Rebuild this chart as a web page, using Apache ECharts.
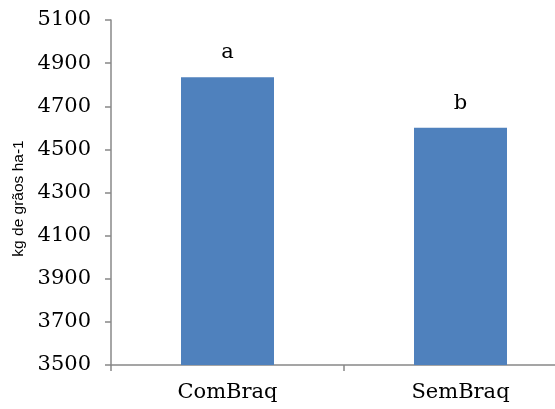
<!DOCTYPE html>
<html>
<head>
<meta charset="utf-8">
<script src="https://cdn.jsdelivr.net/npm/echarts@6/dist/echarts.min.js"></script>
<style>html,body{margin:0;padding:0;background:#fff}#c{width:555px;height:409px}</style>
</head>
<body>
<div id="c"></div>
<script>
const categories = ["ComBraq", "SemBraq"];
const values = [4835, 4600];
const letters = ["a", "b"];
const yTicks = [3500, 3700, 3900, 4100, 4300, 4500, 4700, 4900, 5100];

const chart = echarts.init(document.getElementById('c'), null, {renderer: 'canvas'});
const serif = '"DejaVu Serif", "Liberation Serif", serif';
chart.setOption({
  animation: false,
  grid: {left: 111, top: 20, width: 466, height: 345, outerBoundsMode: 'none', containLabel: false},
  xAxis: {
    type: 'category',
    data: categories,
    axisLine: {lineStyle: {color: '#888888', width: 1.5}},
    axisTick: {show: true, length: 6, lineStyle: {color: '#888888', width: 1.5}},
    axisLabel: {fontFamily: serif, fontSize: 21, color: '#000', margin: 17}
  },
  yAxis: {
    type: 'value',
    min: yTicks[0],
    max: yTicks[yTicks.length - 1],
    interval: 200,
    name: 'kg de grãos ha-1',
    nameLocation: 'middle',
    nameGap: 83,
    nameTextStyle: {fontFamily: '"Liberation Sans", Arial, sans-serif', fontSize: 15.5, color: '#000', padding: [0, 12, 0, 0]},
    axisLine: {show: true, lineStyle: {color: '#888888', width: 1.5}},
    axisTick: {show: true, length: 6, lineStyle: {color: '#888888', width: 1.5}},
    splitLine: {show: false},
    axisLabel: {fontFamily: serif, fontSize: 21, color: '#000', margin: 20, formatter: v => String(v)}
  },
  series: [{
    type: 'bar',
    data: values,
    barWidth: 93,
    itemStyle: {color: '#4F81BD'},
    label: {
      show: true,
      position: 'top',
      distance: 14,
      fontFamily: serif,
      fontSize: 21,
      color: '#000',
      formatter: p => letters[p.dataIndex]
    }
  }]
});
</script>
</body>
</html>
